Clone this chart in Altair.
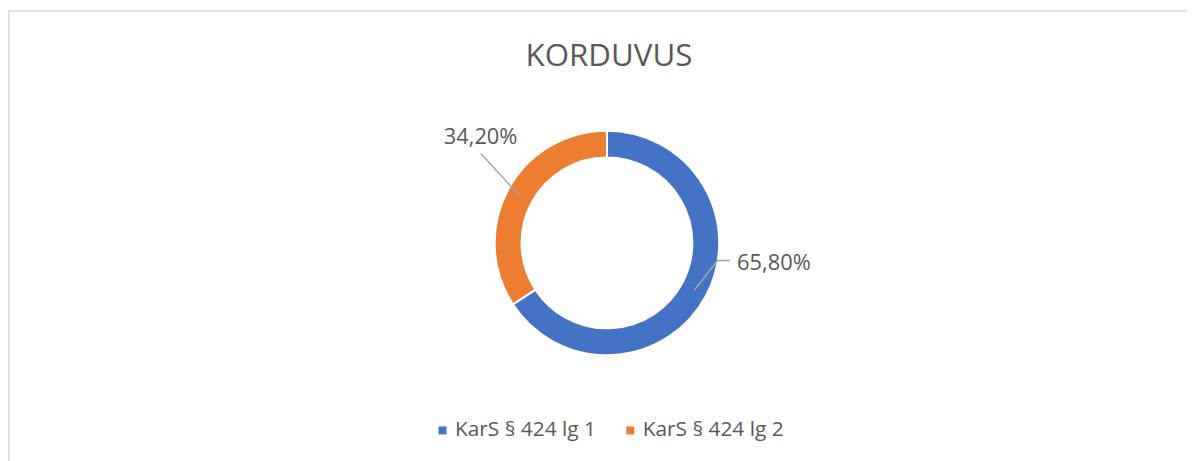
import altair as alt
import pandas as pd
import numpy as np

# ---- data ----
categories = ["KarS § 424 lg 1", "KarS § 424 lg 2"]
values = [65.8, 34.2]
label_texts = ["65,80%", "34,20%"]
colors = ["#4472C4", "#ED7D31"]

# ---- layout ----
W, H = 1187, 453
CX, CY = 603, 235
R_IN, R_OUT = 86, 113
R_LEADER = 100
FONT = "Open Sans"
TXT = "#595959"

# label anchors (relative to centre) and leader-line bends
label_pos = [(131, 20), (-164.3, -107)]
leader_bends = [[(111.3, 17.7), (123.7, 17.7)], [(-127, -90)]]

df = pd.DataFrame({"cat": categories, "value": values,
                   "order": list(range(len(values))), "label": label_texts})

total = float(sum(values))
cum = np.cumsum([0] + values[:-1])
mids = [(c + v / 2) / total * 2 * np.pi for c, v in zip(cum, values)]

rows = []
for i, (cat, m) in enumerate(zip(categories, mids)):
    rows.append({"cat": cat, "seq": 0, "x": CX + R_LEADER * np.sin(m), "y": CY - R_LEADER * np.cos(m)})
    for j, (bx, by) in enumerate(leader_bends[i]):
        rows.append({"cat": cat, "seq": j + 1, "x": CX + bx, "y": CY + by})
lines_df = pd.DataFrame(rows)

lab_df = pd.DataFrame({"cat": categories, "label": label_texts,
                       "x": [CX + p[0] for p in label_pos],
                       "y": [CY + p[1] for p in label_pos]})

border = alt.Chart(pd.DataFrame({"a": [0]})).mark_rect(
    fillOpacity=0, stroke="#D9D9D9", strokeWidth=1.5
).encode(x=alt.value(0.75), x2=alt.value(W + 20), y=alt.value(1.5), y2=alt.value(H + 20))

arc = alt.Chart(df).mark_arc(innerRadius=R_IN, outerRadius=R_OUT, stroke="white", strokeWidth=2).encode(
    theta=alt.Theta("value:Q", stack=True),
    color=alt.Color("cat:N", scale=alt.Scale(domain=categories, range=colors),
                    legend=alt.Legend(orient="none", legendX=427, legendY=413, direction="horizontal",
                                      title=None, symbolType="square", symbolSize=64,
                                      symbolStrokeWidth=0, labelFontSize=21, labelFont=FONT,
                                      labelColor=TXT, labelOffset=2, columnPadding=24)),
    order=alt.Order("order:Q"),
    x=alt.value(CX), y=alt.value(CY),
)

leaders = alt.Chart(lines_df).mark_line(color="#A6A6A6", strokeWidth=1.5).encode(
    x=alt.X("x:Q", scale=None, axis=None),
    y=alt.Y("y:Q", scale=None, axis=None),
    detail="cat:N",
    order="seq:Q",
)

labels = alt.Chart(lab_df).mark_text(align="left", baseline="middle", font=FONT,
                                     fontSize=22, color=TXT).encode(
    x=alt.X("x:Q", scale=None, axis=None),
    y=alt.Y("y:Q", scale=None, axis=None),
    text="label:N",
)

chart = alt.layer(border, arc, leaders, labels).properties(
    width=W, height=H,
    autosize=alt.AutoSizeParams(type="none"),
    padding=0,
    title=alt.TitleParams("KORDUVUS", font=FONT, fontSize=31.5, fontWeight="normal", color=TXT,
                          anchor="middle", offset=0, baseline="alphabetic", dy=88, dx=11.5),
).configure_view(stroke=None)

chart.save("out.html", embed_options={"renderer": "svg", "actions": False})
